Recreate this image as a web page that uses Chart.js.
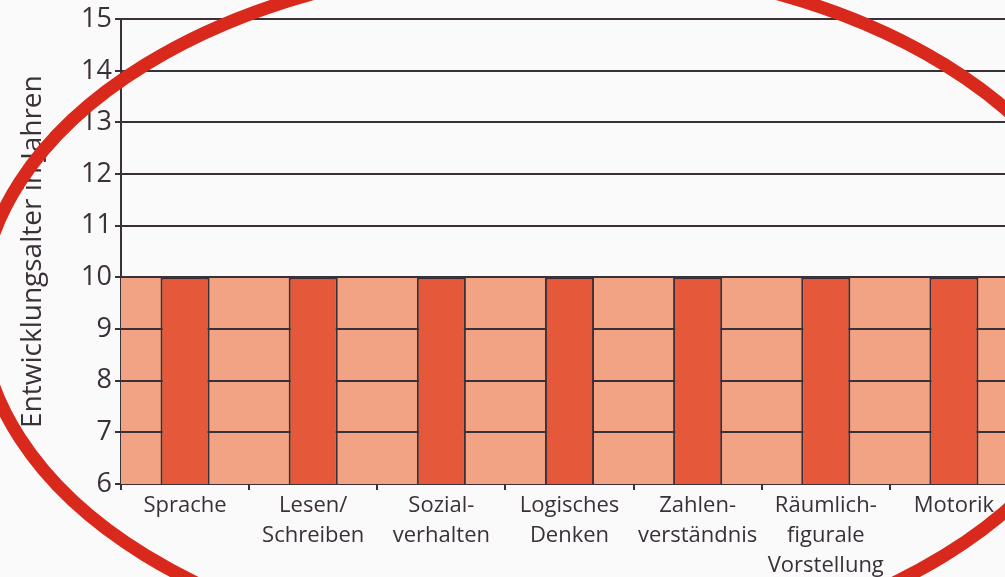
<!DOCTYPE html>
<html>
<head>
<meta charset="utf-8">
<script src="https://cdn.jsdelivr.net/npm/chart.js@4"></script>
<style>
  html, body { margin: 0; padding: 0; background: #fbfafb; overflow: hidden; }
  #wrap { position: relative; width: 1018px; height: 577px; }
</style>
</head>
<body>
<div id="wrap"><canvas id="entwicklung"></canvas></div>
<script>
const categories = [
	'Sprache',
	['Lesen/', 'Schreiben'],
	['Sozial-', 'verhalten'],
	['Logisches', 'Denken'],
	['Zahlen-', 'verständnis'],
	['Räumlich-', 'figurale', 'Vorstellung'],
	'Motorik',
]
const ageValues = [10, 10, 10, 10, 10, 10, 10]
// light band behind the bars
const bandValues = [10, 10, 10, 10, 10, 10, 10]
const yMin = 6
const yMax = 15

const ink = '#3a3038'

// horizontal lines go over the light band but under the dark bars
const gridBetween = {
	id: 'gridBetween',
	afterDatasetDraw(chart, args) {
		if (args.index !== 1) return
		const { ctx, chartArea, scales } = chart
		const y = scales.y
		ctx.save()
		ctx.strokeStyle = ink
		ctx.lineWidth = 2
		y.ticks.forEach((t, i) => {
			if (t.value === yMin) return
			const py = Math.round(y.getPixelForTick(i))
			ctx.beginPath()
			ctx.moveTo(chartArea.left, py)
			ctx.lineTo(chartArea.right, py)
			ctx.stroke()
		})
		ctx.restore()
	},
}

// the red hand-drawn oval on the scan
const redOval = {
	id: 'redOval',
	afterDraw(chart) {
		const ctx = chart.ctx
		ctx.save()
		ctx.strokeStyle = '#d9291c'
		ctx.lineWidth = 13
		ctx.beginPath()
		ctx.ellipse(545, 310, 565, 347, 0, 0, Math.PI * 2)
		ctx.stroke()
		ctx.restore()
	},
}

const ctx1 = document.getElementById('entwicklung')

const ageChart = new Chart(ctx1, {
	type: 'bar',
	data: {
		labels: categories,
		datasets: [
			{
				label: 'Entwicklungsalter',
				data: ageValues,
				backgroundColor: '#e5583a',
				borderColor: ink,
				borderWidth: 2,
				borderSkipped: false,
				barPercentage: 0.383,
				categoryPercentage: 1,
				stack: 'a',
			},
			{
				label: 'Band',
				data: bandValues,
				backgroundColor: '#f1a384',
				borderWidth: 0,
				barPercentage: 1,
				categoryPercentage: 1,
				stack: 'a',
			},
		],
	},
	plugins: [gridBetween, redOval],
	options: {
		responsive: true,
		maintainAspectRatio: false,
		animation: false,
		layout: { padding: 0 },
		plugins: {
			legend: { display: false },
			tooltip: { enabled: false },
		},
		scales: {
			x: {
				stacked: true,
				z: 1,
				border: { color: ink, width: 2 },
				grid: {
					offset: true,
					drawOnChartArea: false,
					color: ink,
					lineWidth: 2,
					tickLength: 6,
				},
				ticks: {
					color: ink,
					padding: 1,
					maxRotation: 0,
					autoSkip: false,
					font: { family: 'Open Sans', size: 22, lineHeight: 1.36 },
				},
				afterFit(scale) {
					scale.height = 93
				},
			},
			y: {
				stacked: false,
				z: 1,
				min: yMin,
				max: yMax,
				border: { color: ink, width: 2 },
				grid: {
					drawOnChartArea: false,
					color: ink,
					lineWidth: 2,
					tickLength: 6,
				},
				ticks: {
					stepSize: 1,
					color: ink,
					padding: 3,
					font: { family: 'Open Sans', size: 27 },
				},
				title: {
					display: true,
					text: 'Entwicklungsalter in Jahren',
					color: ink,
					padding: { top: 16, bottom: 0 },
					font: { family: 'Open Sans', size: 28 },
				},
				afterFit(scale) {
					scale.width = 121
				},
			},
		},
	},
})
</script>
</body>
</html>
